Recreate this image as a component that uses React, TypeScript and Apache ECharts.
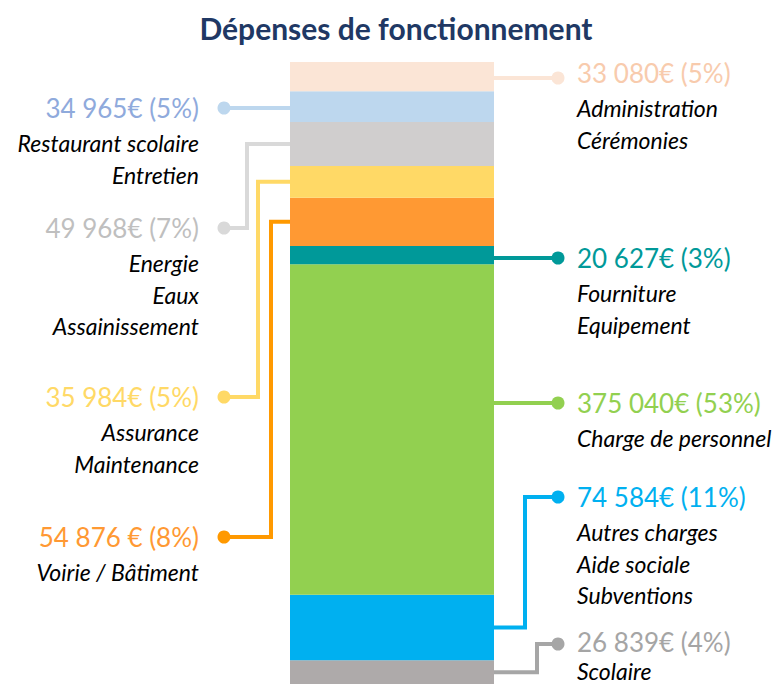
import React, { useEffect, useRef } from "react";
import * as echarts from "echarts";

// ---- Data (bottom of stack first) ----
const categories = [
  "Scolaire",
  "Autres charges\nAide sociale\nSubventions",
  "Charge de personnel",
  "Fourniture\nEquipement",
  "Voirie / Bâtiment",
  "Assurance\nMaintenance",
  "Energie\nEaux\nAssainissement",
  "Restaurant scolaire\nEntretien",
  "Administration\nCérémonies",
];
const values = [26839, 74584, 375040, 20627, 54876, 35984, 49968, 34965, 33080];
const valueLabels = [
  "26 839€ (4%)",
  "74 584€ (11%)",
  "375 040€ (53%)",
  "20 627€ (3%)",
  "54 876 € (8%)",
  "35 984€ (5%)",
  "49 968€ (7%)",
  "34 965€ (5%)",
  "33 080€ (5%)",
];

// ---- Styles ----
const barColors = ["#AEAAAA", "#00B0F0", "#92D050", "#009999", "#FF9933", "#FFD966", "#D0CECE", "#BDD7EE", "#FBE5D6"];
const textColors = ["#A5A5A5", "#00B0F0", "#92D050", "#009999", "#FF9933", "#FFD966", "#BFBFBF", "#8FAADC", "#F8CBAD"];
const lineColors = ["#A6A6A6", "#00B0F0", "#92D050", "#009999", "#FF9900", "#FFD966", "#D9D9D9", "#BDD7EE", "#FBE5D6"];

// ---- Label layout (pixel positions of the annotation dots) ----
const labelSide = ["right", "right", "right", "right", "left", "left", "left", "left", "right"];
const dotY = [644, 497, 403, 258, 537, 397, 228, 108, 78];
const elbowX: (number | null)[] = [537, 525, null, null, 271, 258, 247, null, null];
const valueTextDy = [-2, 0, 0, 0, 0, 0, 0, 0, -5];
const firstLineDy = [27, 35, 35, 35, 35, 35, 35, 35, 30];

const FONT = "Lato, 'Open Sans', sans-serif";

export default function App() {
  const ref = useRef<HTMLDivElement>(null);
  useEffect(() => {
    if (!ref.current) return;
    const chart = echarts.init(ref.current, undefined, { renderer: "svg" });
    const total = values.reduce((a, b) => a + b, 0);
    const barWidth = 204;
    chart.setOption({
      animation: false,
      title: {
        text: "Dépenses de fonctionnement",
        left: 391,
        textAlign: "center",
        top: 8,
        textStyle: { fontFamily: FONT, fontWeight: "bold", fontSize: 30, color: "#203864" },
      },
      grid: { left: 290, width: 204, top: 62, bottom: 0 },
      xAxis: { type: "category", data: ["Dépenses"], show: false },
      yAxis: { type: "value", min: 0, max: total, show: false },
      series: values.map((v, i) => ({
        type: "bar",
        name: categories[i],
        stack: "total",
        barWidth,
        data: [v],
        itemStyle: { color: barColors[i] },
        emphasis: { disabled: true },
      })),
    });

    const graphics: any[] = [];
    let cum = 0;
    const center = chart.convertToPixel({ gridIndex: 0 }, [0, 0]) as number[];
    const barLeft = center[0] - barWidth / 2;
    const barRight = center[0] + barWidth / 2;
    const dotXRight = 558;
    const dotXLeft = 224;
    values.forEach((v, i) => {
      const yLow = (chart.convertToPixel({ gridIndex: 0 }, [0, cum]) as number[])[1];
      const yHigh = (chart.convertToPixel({ gridIndex: 0 }, [0, cum + v]) as number[])[1];
      cum += v;
      const mid = (yLow + yHigh) / 2;
      const right = labelSide[i] === "right";
      const edge = right ? barRight : barLeft;
      const dx = right ? dotXRight : dotXLeft;
      const dy = dotY[i];
      const ex = elbowX[i];
      const pts = ex == null ? [[edge, dy], [dx, dy]] : [[edge, mid], [ex, mid], [ex, dy], [dx, dy]];
      graphics.push({
        type: "polyline",
        shape: { points: pts },
        style: { stroke: lineColors[i], lineWidth: 4, fill: null },
        z: 10,
      });
      graphics.push({
        type: "circle",
        shape: { cx: dx, cy: dy, r: 6.5 },
        style: { fill: lineColors[i] },
        z: 11,
      });
      const tx = right ? 577 : 199;
      const align = right ? "left" : "right";
      graphics.push({
        type: "text",
        x: tx,
        y: dy + valueTextDy[i],
        style: {
          text: valueLabels[i],
          fill: textColors[i],
          font: `26px ${FONT}`,
          textAlign: align,
          textVerticalAlign: "middle",
        },
        z: 12,
      });
      categories[i].split("\n").forEach((line, k) => {
        graphics.push({
          type: "text",
          x: tx,
          y: dy + firstLineDy[i] + k * 31.5,
          style: {
            text: line,
            fill: "#000000",
            font: `italic 23px ${FONT}`,
            textAlign: align,
            textVerticalAlign: "middle",
          },
          z: 12,
        });
      });
    });
    chart.setOption({ graphic: graphics });
    return () => chart.dispose();
  }, []);
  return (
    <div
      ref={ref}
      style={{ position: "absolute", left: 0, top: 0, width: 777, height: 684, background: "#ffffff" }}
    />
  );
}
